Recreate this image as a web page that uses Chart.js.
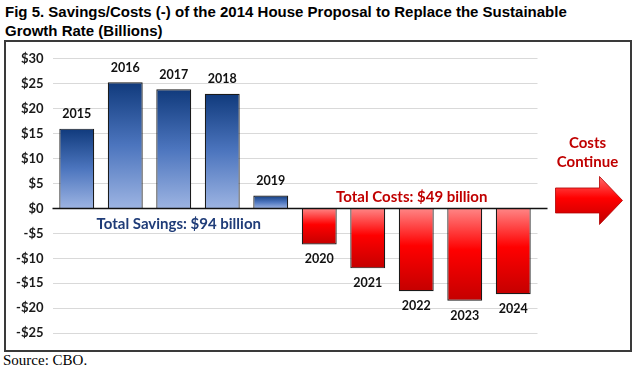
<!DOCTYPE html>
<html>
<head>
<meta charset="utf-8">
<script src="https://cdn.jsdelivr.net/npm/chart.js@4.4.1/dist/chart.umd.min.js"></script>
<style>
  html, body { margin: 0; padding: 0; background: #fff; }
  body { width: 636px; height: 374px; position: relative; overflow: hidden; }
  #title { position: absolute; left: 5px; top: 3px; font-family: "Liberation Sans", Arial, sans-serif; font-weight: bold; font-size: 15px; line-height: 18.7px; color: #000; white-space: nowrap; }
  #box { position: absolute; left: 4px; top: 40px; width: 624px; height: 308px; border: 2px solid #3a3a3a; }
  #source { position: absolute; left: 3px; top: 352px; font-family: "Liberation Serif", "Times New Roman", serif; font-size: 15px; color: #000; }
  canvas { display: block; }
</style>
</head>
<body>
<div id="title">Fig 5. Savings/Costs (-) of the 2014 House Proposal to Replace the Sustainable<br>Growth Rate (Billions)</div>
<div id="box"><canvas id="c" width="624" height="308"></canvas></div>
<div id="source">Source: CBO.</div>
<script>
const categories = ['2015', '2016', '2017', '2018', '2019', '2020', '2021', '2022', '2023', '2024'];
const values = [16.0, 25.3, 23.9, 23.0, 2.6, -7.2, -12.0, -16.6, -18.5, -17.2];
const yTickValues = [30, 25, 20, 15, 10, 5, 0, -5, -10, -15, -20, -25];
const savingsNote = 'Total Savings: $94 billion';
const costsNote = 'Total Costs: $49 billion';
const continueNote = ['Costs', 'Continue'];

const fmt = v => (v < 0 ? '-$' + Math.abs(v) : '$' + v);
const LABEL_FONT = '"Lato", "Open Sans", sans-serif';

const overlay = {
  id: 'overlay',
  afterDatasetsDraw(chart) {
    const { ctx, chartArea, scales } = chart;
    const x = scales.x, y = scales.y;
    const zero = y.getPixelForValue(0);
    ctx.save();
    // zero line
    ctx.strokeStyle = '#111';
    ctx.lineWidth = 1.5;
    ctx.beginPath();
    ctx.moveTo(chartArea.left, zero);
    ctx.lineTo(chartArea.right + 10, zero);
    ctx.stroke();
    // year labels
    ctx.font = 'bold 12.5px ' + LABEL_FONT;
    ctx.fillStyle = '#111';
    ctx.textAlign = 'center';
    ctx.textBaseline = 'middle';
    values.forEach((v, i) => {
      const px = x.getPixelForValue(i);
      const py = y.getPixelForValue(v);
      ctx.fillText(categories[i], px, v >= 0 ? py - 14.5 : py + 15);
    });
    // notes
    ctx.font = 'bold 15px ' + LABEL_FONT;
    ctx.fillStyle = '#1F3C78';
    ctx.fillText(savingsNote, x.getPixelForValue(2) + 5, y.getPixelForValue(-3.2));
    ctx.fillStyle = '#C00000';
    ctx.fillText(costsNote, x.getPixelForValue(7) - 4.5, y.getPixelForValue(2.3));
    ctx.fillText(continueNote[0], chartArea.right + 50, y.getPixelForValue(13));
    ctx.fillText(continueNote[1], chartArea.right + 50, y.getPixelForValue(9.3));
    // arrow
    const ax = chartArea.right + 18, cy = zero - 8;
    const g = ctx.createLinearGradient(0, cy - 24, 0, cy + 24);
    g.addColorStop(0, '#FF6A6A');
    g.addColorStop(0.45, '#FF0000');
    g.addColorStop(1, '#C00000');
    ctx.fillStyle = g;
    ctx.strokeStyle = '#B00000';
    ctx.lineWidth = 0.8;
    ctx.beginPath();
    ctx.moveTo(ax, cy - 12.5);
    ctx.lineTo(ax + 44, cy - 12.5);
    ctx.lineTo(ax + 44, cy - 24);
    ctx.lineTo(ax + 67, cy);
    ctx.lineTo(ax + 44, cy + 24);
    ctx.lineTo(ax + 44, cy + 12.5);
    ctx.lineTo(ax, cy + 12.5);
    ctx.closePath();
    ctx.fill();
    ctx.stroke();
    ctx.restore();
  }
};

new Chart(document.getElementById('c'), {
  type: 'bar',
  data: {
    labels: categories,
    datasets: [{
      data: values,
      backgroundColor: (c) => {
        const chart = c.chart;
        if (!chart.chartArea || c.raw === undefined) return '#4F78C0';
        const ys = chart.scales.y;
        const v = c.raw;
        const p0 = ys.getPixelForValue(0), p1 = ys.getPixelForValue(v);
        const g = chart.ctx.createLinearGradient(0, Math.min(p0, p1), 0, Math.max(p0, p1) + 0.01);
        if (v >= 0) {
          g.addColorStop(0, '#103A7C');
          g.addColorStop(0.5, '#4C75BE');
          g.addColorStop(1, '#9DB4E2');
        } else {
          g.addColorStop(0, '#FF8585');
          g.addColorStop(0.45, '#FF0000');
          g.addColorStop(1, '#C40000');
        }
        return g;
      },
      borderColor: '#1a1a1a',
      borderWidth: 1.2,
      barPercentage: 0.72,
      categoryPercentage: 1.0
    }]
  },
  options: {
    responsive: false,
    animation: false,
    devicePixelRatio: 1,
    layout: { padding: { top: 11, bottom: 14, left: 0, right: 92.5 } },
    plugins: { legend: { display: false }, tooltip: { enabled: false }, title: { display: false } },
    scales: {
      x: { display: false },
      y: {
        min: -25, max: 30,
        afterBuildTicks: (s) => { s.ticks = yTickValues.map(v => ({ value: v })); },
        afterFit: (s) => { s.width = 46.5; },
        ticks: {
          callback: (v) => fmt(v),
          font: { family: LABEL_FONT, size: 13, weight: 'bold' },
          color: '#1a1a1a',
          padding: 9
        },
        grid: { color: '#D9D9D9', lineWidth: 1, drawTicks: false },
        border: { display: false }
      }
    }
  },
  plugins: [overlay]
});
</script>
</body>
</html>
